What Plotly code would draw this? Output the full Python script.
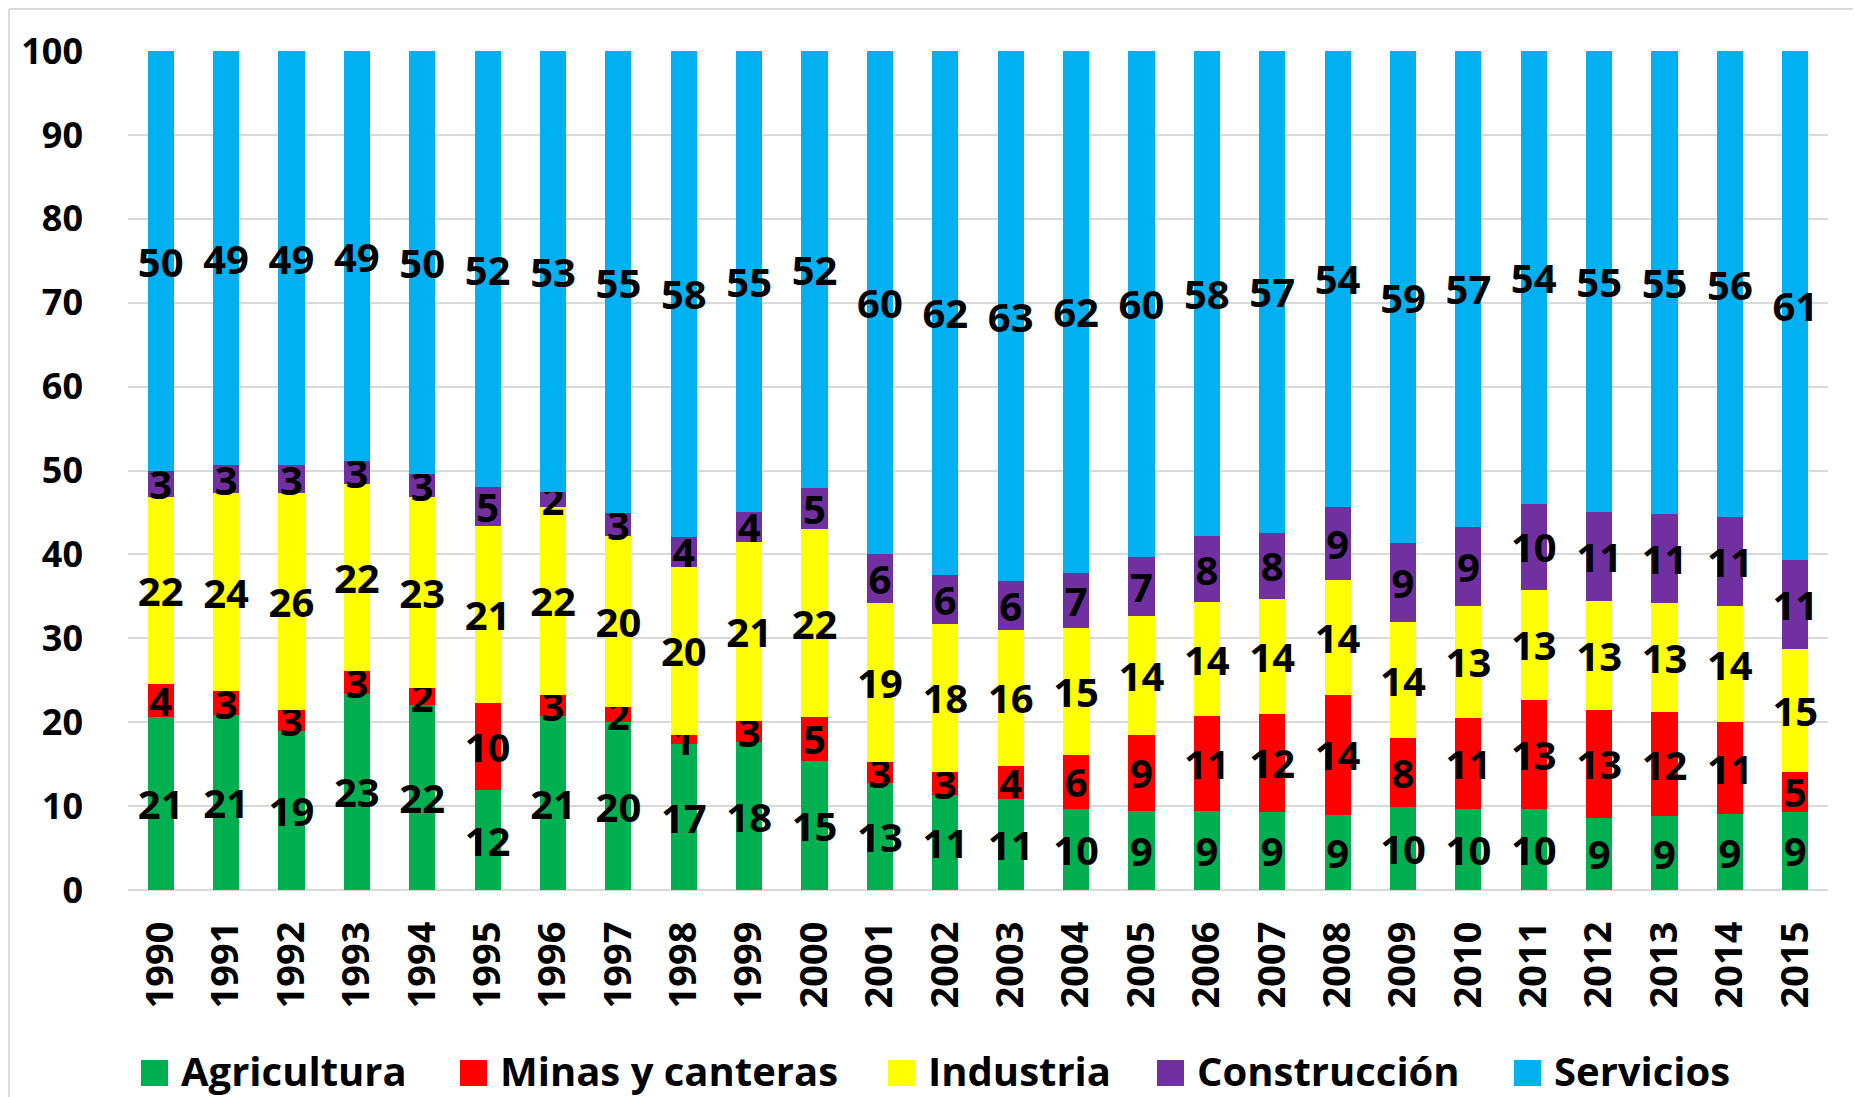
import plotly.graph_objects as go

years = [str(y) for y in range(1990, 2016)]

agricultura = [20.6, 20.8, 18.9, 23.4, 22.1, 11.9, 20.7, 20.0, 17.4, 17.6, 15.4, 12.7, 11.3,
               10.8, 9.7, 9.4, 9.4, 9.3, 8.9, 9.9, 9.7, 9.6, 8.6, 8.8, 9.0, 9.3]
minas = [4.0, 2.9, 2.6, 2.7, 2.0, 10.4, 2.6, 1.8, 1.1, 2.6, 5.2, 2.6, 2.8,
         4.0, 6.4, 9.1, 11.3, 11.7, 14.4, 8.2, 10.8, 13.1, 12.9, 12.4, 11.0, 4.8]
industria = [22.3, 23.6, 25.8, 22.3, 22.8, 21.1, 22.3, 20.4, 20.0, 21.3, 22.4, 18.9, 17.6,
             16.2, 15.1, 14.2, 13.6, 13.7, 13.7, 13.8, 13.4, 13.1, 12.9, 13.0, 13.8, 14.6]
construccion = [3.0, 3.3, 3.3, 2.7, 2.7, 4.6, 1.8, 2.7, 3.6, 3.6, 4.9, 5.8, 5.9,
                5.8, 6.6, 7.0, 7.9, 7.9, 8.7, 9.4, 9.4, 10.2, 10.7, 10.6, 10.6, 10.6]
servicios = [50.1, 49.4, 49.4, 48.9, 50.4, 52.0, 52.6, 55.1, 57.9, 54.9, 52.1, 60.0, 62.4,
             63.2, 62.2, 60.3, 57.8, 57.4, 54.3, 58.7, 56.7, 54.0, 54.9, 55.2, 55.6, 60.7]

series_names = ["Agricultura", "Minas y canteras", "Industria", "Construcción", "Servicios"]
series_values = [agricultura, minas, industria, construccion, servicios]
series_colors = ["#00B050", "#FF0000", "#FFFF00", "#7030A0", "#00B0F0"]

FONT = "Open Sans"
OFF = 8  # page body margin
W, H = 1861 - OFF, 1097 - OFF
ML, MR, MT, MB = 120, 33, 43, 207
PW, PH = W - ML - MR, H - MT - MB


def px_x(x):
    """page pixel x -> paper coordinate"""
    return (x - OFF - ML) / PW


def px_y(y):
    """page pixel y -> paper coordinate"""
    return (H - MB - (y - OFF)) / PH


fig = go.Figure()
for name, vals, col in zip(series_names, series_values, series_colors):
    fig.add_trace(go.Bar(
        x=years, y=vals, name=name,
        marker=dict(color=col, line=dict(width=0)),
        texttemplate="%{y:.0f}",
        textposition="inside",
        insidetextanchor="middle",
        textangle=0,
        constraintext="none",
        insidetextfont=dict(family=FONT, size=40, color="black", weight="bold"),
        cliponaxis=False,
        showlegend=False,
    ))

shapes = []
annotations = []
# chart border (top and left)
shapes.append(dict(type="line", xref="paper", yref="paper",
                   x0=px_x(OFF + 1), x1=px_x(1861 + 5), y0=px_y(OFF + 1), y1=px_y(OFF + 1),
                   line=dict(color="#d9d9d9", width=2)))
shapes.append(dict(type="line", xref="paper", yref="paper",
                   x0=px_x(OFF + 1), x1=px_x(OFF + 1), y0=px_y(OFF + 1), y1=px_y(1097 + 5),
                   line=dict(color="#d9d9d9", width=2)))

# legend (at bottom)
legend_sq_x = [141, 460, 888, 1157, 1514]
for name, col, sx in zip(series_names, series_colors, legend_sq_x):
    shapes.append(dict(type="rect", xref="paper", yref="paper",
                       x0=px_x(sx), x1=px_x(sx + 27), y0=px_y(1086), y1=px_y(1060),
                       fillcolor=col, line=dict(width=0)))
    annotations.append(dict(text=name, xref="paper", yref="paper",
                            x=px_x(sx + 38), y=px_y(1070), xanchor="left", yanchor="middle",
                            showarrow=False,
                            font=dict(family=FONT, size=40, color="black", weight="bold")))

fig.update_layout(
    barmode="stack",
    bargap=0.6,
    width=W, height=H,
    margin=dict(l=ML, r=MR, t=MT, b=MB),
    paper_bgcolor="white",
    plot_bgcolor="white",
    shapes=shapes,
    annotations=annotations,
    xaxis=dict(
        type="category",
        tickangle=-90,
        tickfont=dict(family=FONT, size=38, color="black", weight="bold"),
        showgrid=False, showline=False, ticks="",
        ticklabelstandoff=23,
    ),
    yaxis=dict(
        range=[0, 100],
        dtick=10,
        tickfont=dict(family=FONT, size=36, color="black", weight="bold"),
        showgrid=True, gridcolor="#d9d9d9", gridwidth=2,
        zeroline=True, zerolinecolor="#d9d9d9", zerolinewidth=2,
        showline=False, ticks="",
        ticklabelstandoff=44,
    ),
)

fig.write_html("out.html")
